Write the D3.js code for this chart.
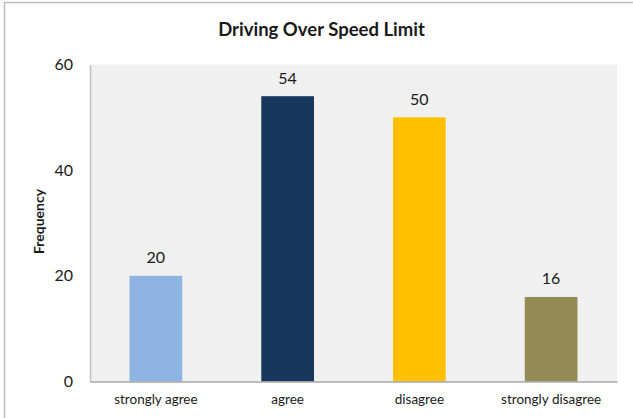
<!DOCTYPE html>
<html>
<head>
<meta charset="utf-8">
<script src="https://cdn.jsdelivr.net/npm/d3@7"></script>
<style>
  html, body { margin: 0; padding: 0; background: #ffffff; }
  svg { display: block; font-family: Lato, "Open Sans", sans-serif; }
</style>
</head>
<body>
<svg id="chart" width="633" height="418"></svg>
<script>
// Survey responses: "Driving Over Speed Limit"
const categories = ["strongly agree", "agree", "disagree", "strongly disagree"];
const frequencies = [20, 54, 50, 16];
const barColors = ["#8eb4e3", "#17375e", "#ffc000", "#948a54"];
const yTicks = [0, 20, 40, 60];
const chartTitle = "Driving Over Speed Limit";
const yAxisTitle = "Frequency";

const svg = d3.select("#chart");
const plot = { left: 90, right: 617, top: 64.5, bottom: 381.5 };

// Outer chart frame (runs off the right and bottom edges)
svg.append("rect")
  .attr("x", 4.5).attr("y", 2.5)
  .attr("width", 700).attr("height", 500)
  .attr("fill", "#ffffff")
  .attr("stroke", "#bdbdbd")
  .attr("stroke-width", 1.5);

const x = d3.scaleBand()
  .domain(categories)
  .range([plot.left, plot.right])
  .paddingInner(0.6)
  .paddingOuter(0.3);

const y = d3.scaleLinear()
  .domain([0, 60])
  .range([plot.bottom, plot.top]);

// Plot area background
svg.append("rect")
  .attr("x", plot.left).attr("y", plot.top)
  .attr("width", plot.right - plot.left)
  .attr("height", plot.bottom - plot.top)
  .attr("fill", "#f0f0f0");

// Bars
svg.append("g").selectAll("rect")
  .data(categories)
  .join("rect")
  .attr("x", d => x(d))
  .attr("y", (d, i) => y(frequencies[i]))
  .attr("width", x.bandwidth())
  .attr("height", (d, i) => y(0) - y(frequencies[i]))
  .attr("fill", (d, i) => barColors[i]);

// Value labels above bars
svg.append("g").selectAll("text")
  .data(categories)
  .join("text")
  .attr("x", d => x(d) + x.bandwidth() / 2)
  .attr("y", (d, i) => y(frequencies[i]) - 12.5)
  .attr("text-anchor", "middle")
  .attr("font-size", 16)
  .attr("fill", "#1a1a1a")
  .text((d, i) => frequencies[i]);

// Y axis
const yAxis = svg.append("g")
  .attr("transform", `translate(${plot.left},0)`)
  .call(d3.axisLeft(y).tickValues(yTicks).tickSize(0).tickPadding(17));
yAxis.select(".domain").attr("stroke", "#bfbfbf").attr("stroke-width", 1.5);
yAxis.selectAll("text")
  .attr("font-size", 16)
  .attr("font-family", "Lato, 'Open Sans', sans-serif")
  .attr("fill", "#1a1a1a");

// X axis
const xAxis = svg.append("g")
  .attr("transform", `translate(0,${plot.bottom})`)
  .call(d3.axisBottom(x).tickSize(0).tickPadding(13));
xAxis.select(".domain").attr("stroke", "#a6a6a6").attr("stroke-width", 1.5);
xAxis.selectAll("text")
  .attr("font-size", 13.5)
  .attr("font-family", "Lato, 'Open Sans', sans-serif")
  .attr("fill", "#1a1a1a");

// Titles
svg.append("text")
  .attr("x", 321.5).attr("y", 36)
  .attr("text-anchor", "middle")
  .attr("font-size", 18.5)
  .attr("font-weight", "bold")
  .attr("fill", "#1a1a1a")
  .text(chartTitle);

svg.append("text")
  .attr("transform", "translate(44,221.5) rotate(-90)")
  .attr("text-anchor", "middle")
  .attr("font-size", 14)
  .attr("font-weight", "bold")
  .attr("fill", "#1a1a1a")
  .text(yAxisTitle);
</script>
</body>
</html>
